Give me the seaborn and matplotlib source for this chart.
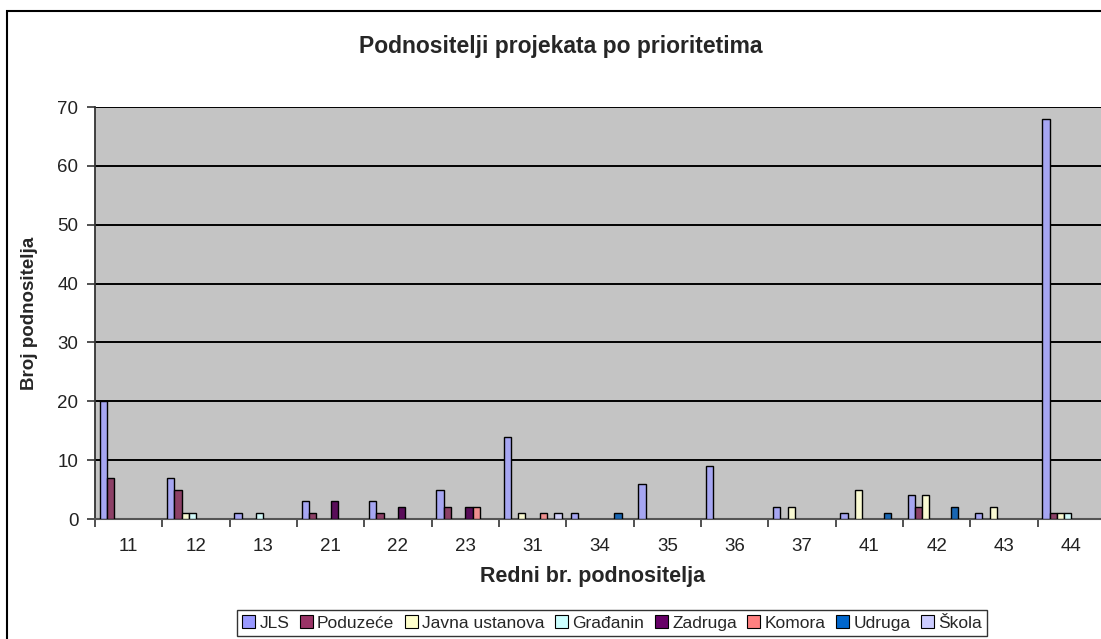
import numpy as np
import pandas as pd
import matplotlib
matplotlib.use("Agg")
import matplotlib.pyplot as plt
import seaborn as sns
from matplotlib.patches import Rectangle, Patch
from matplotlib.ticker import FixedLocator

# data
categories = ["11", "12", "13", "21", "22", "23", "31", "34", "35", "36", "37", "41", "42", "43", "44"]
jls = [20, 7, 1, 3, 3, 5, 14, 1, 6, 9, 2, 1, 4, 1, 68]
poduzece = [7, 5, 0, 1, 1, 2, 0, 0, 0, 0, 0, 0, 2, 0, 1]
javna_ustanova = [0, 1, 0, 0, 0, 0, 1, 0, 0, 0, 2, 5, 4, 2, 1]
gradjanin = [0, 1, 1, 0, 0, 0, 0, 0, 0, 0, 0, 0, 0, 0, 1]
zadruga = [0, 0, 0, 3, 2, 2, 0, 0, 0, 0, 0, 0, 0, 0, 0]
komora = [0, 0, 0, 0, 0, 2, 1, 0, 0, 0, 0, 0, 0, 0, 0]
udruga = [0, 0, 0, 0, 0, 0, 0, 1, 0, 0, 0, 1, 2, 0, 0]
skola = [0, 0, 0, 0, 0, 0, 1, 0, 0, 0, 0, 0, 0, 0, 0]

series_names = ["JLS", "Poduzeće", "Javna ustanova", "Građanin", "Zadruga", "Komora", "Udruga", "Škola"]
series_values = [jls, poduzece, javna_ustanova, gradjanin, zadruga, komora, udruga, skola]
colors = ["#9999FF", "#993366", "#FFFFCC", "#CCFFFF", "#660066", "#FF8080", "#0066CC", "#CCCCFF"]

rows = []
for name, vals in zip(series_names, series_values):
    for cat, v in zip(categories, vals):
        if v > 0:
            rows.append({"Redni": cat, "Podnositelj": name, "Broj": v})
df = pd.DataFrame(rows)

sns.set_style("white")
plt.rcParams["font.family"] = ["Liberation Sans", "DejaVu Sans"]
plt.rcParams["hatch.linewidth"] = 0.5

fig = plt.figure(figsize=(11.01, 6.39), dpi=100)
ax = fig.add_axes([95 / 1101, 1 - 519 / 639, 1010 / 1101, 412 / 639])

# patterned grey plot area, like the Excel fill
ax.patch.set_facecolor("#A4A4A4")
ax.patch.set_edgecolor("#C4C4C4")
ax.patch.set_linewidth(0)
ax.patch.set_hatch("+" * 20)

sns.barplot(data=df, x="Redni", y="Broj", hue="Podnositelj",
            order=categories, hue_order=series_names, palette=colors,
            width=0.86, gap=0, edgecolor="black", linewidth=1.0,
            errorbar=None, legend=False, ax=ax, zorder=3)

ax.set_xlim(-0.5, len(categories) - 0.5)
ax.set_ylim(0, 70)
ax.set_yticks(range(0, 71, 10))
ax.grid(axis="y", color="black", linewidth=1.4, zorder=1)
ax.set_axisbelow(True)

for s in ["top", "right"]:
    ax.spines[s].set_visible(False)
ax.spines["left"].set_color("#333333")
ax.spines["bottom"].set_color("#555555")
ax.spines["left"].set_linewidth(1.3)
ax.spines["bottom"].set_linewidth(1.5)

ax.tick_params(axis="y", length=6, width=1.2, color="#333333", labelsize=13.5,
               labelcolor="#222222", pad=6, left=True)
ax.tick_params(axis="x", which="major", length=0, labelsize=13.5,
               labelcolor="#222222", pad=14)
ax.xaxis.set_minor_locator(FixedLocator(np.arange(-0.5, len(categories), 1)))
ax.tick_params(axis="x", which="minor", length=6, width=1.2, color="#333333", bottom=True)

ax.set_xlabel("Redni br. podnositelja", fontsize=15.5, fontweight="bold", labelpad=8)
ax.xaxis.set_label_coords(0.493, -0.115)
ax.set_ylabel("Broj podnositelja", fontsize=13.5, fontweight="bold", labelpad=14)

fig.text(561 / 1101, 1 - 46 / 639, "Podnositelji projekata po prioritetima",
         ha="center", va="center", fontsize=16.5, fontweight="bold")

# outer chart border (cut off at right and bottom)
fig.patches.append(Rectangle((7 / 1101, -0.2), 1.2, 1.2 - 11 / 639,
                             transform=fig.transFigure, fill=False,
                             edgecolor="black", linewidth=1.5))

handles = [Patch(facecolor=c, edgecolor="black", linewidth=0.8) for c in colors]
leg = fig.legend(handles, series_names, loc="upper center", ncol=8,
                 bbox_to_anchor=(612 / 1101, 1 - 610 / 639), fontsize=12.5,
                 frameon=True, fancybox=False, edgecolor="black",
                 handlelength=0.75, handleheight=0.75, handletextpad=0.25,
                 columnspacing=0.6, borderpad=0.3, borderaxespad=0)
leg.get_frame().set_linewidth(1.0)

fig.savefig("out.png", dpi=100)
